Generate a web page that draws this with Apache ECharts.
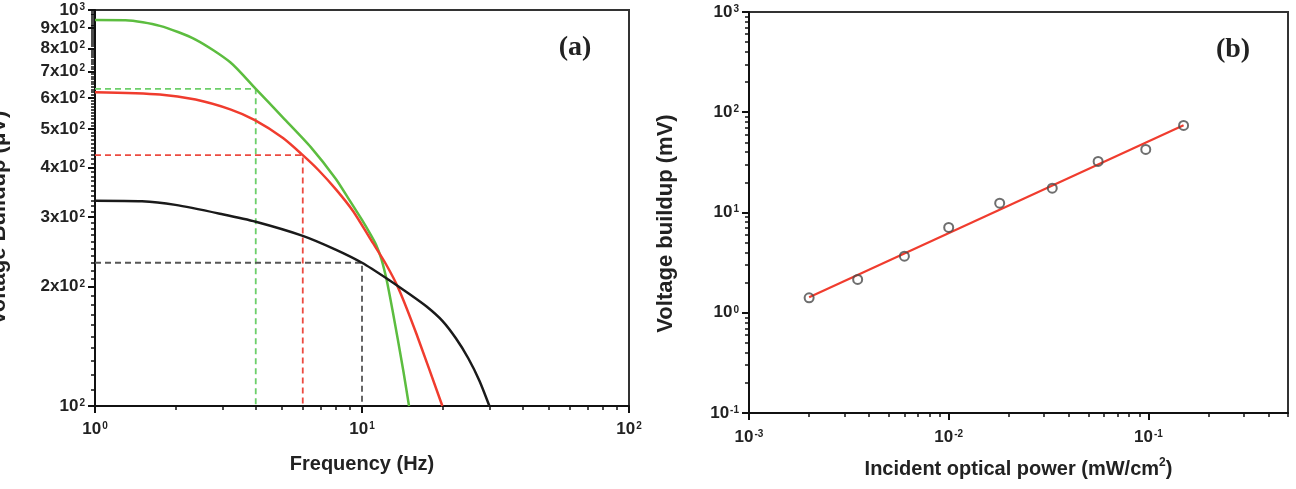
<!DOCTYPE html>
<html lang="en" style="height: 100%">
  <head>
    <meta charset="utf-8" />
  </head>
  <body style="height: 100%; margin: 0; overflow: hidden; background: #fff">
    <div id="container" style="width: 1296px; height: 489px"></div>
    <script type="text/javascript" src="https://cdn.jsdelivr.net/npm/echarts@6/dist/echarts.min.js"></script>
    <script type="text/javascript">
      // (a) frequency response
      const freqGreen = [1, 1.3, 1.75, 2.38, 3.21, 4, 5.06, 6.44, 7.97, 9, 10, 10.8, 11.3, 11.8, 12.37, 13, 13.6, 14.3, 15]
      const voltGreen = [943, 942, 912, 842, 738, 632, 535, 450, 375, 330, 295, 270, 255, 236, 208, 175, 148, 122, 100]
      const freqRed = [1, 1.75, 2.38, 3.21, 3.97, 5.06, 6, 6.85, 8, 9.28, 10.79, 12.3, 13.75, 16, 20]
      const voltRed = [620, 612, 594, 561, 527, 475, 430, 395, 352, 310, 263, 228, 197, 152, 100]
      const freqBlack = [1, 1.5, 2, 3, 4, 6, 8, 10, 12.5, 15, 17.5, 20, 22.5, 25, 27.5, 30]
      const voltBlack = [330, 329, 322, 305, 292, 269, 248, 230, 209, 192, 178, 164, 148, 132, 116, 100]
      // cut-off markers (green, red, black)
      const markFreq = [4, 6, 10]
      const markVolt = [632, 430, 230]

      // (b) power dependence
      const power = [0.002, 0.0035, 0.006, 0.01, 0.018, 0.033, 0.056, 0.097, 0.15]
      const buildup = [1.41, 2.15, 3.67, 7.1, 12.4, 17.5, 32.3, 42.6, 73.9]
      const fitPower = [0.002, 0.15]
      const fitBuildup = [1.43, 74]

      // tick positions
      const freqMajor = [1, 10, 100]
      const freqMinor = []
      for (const d of [1, 10]) for (let m = 2; m <= 9; m++) freqMinor.push(m * d)
      const voltMajor = [100, 200, 300, 400, 500, 600, 700, 800, 900, 1000]
      const voltMinor = []
      for (let v = 110; v < 1000; v += 10) if (v % 100 !== 0) voltMinor.push(v)
      const powMajor = [0.001, 0.01, 0.1]
      const powMinor = []
      for (const d of [0.001, 0.01, 0.1]) for (let m = 2; m <= 9; m++) if (m * d <= 0.5 + 1e-9) powMinor.push(+(m * d).toPrecision(3))
      const bMajor = [0.1, 1, 10, 100, 1000]
      const bMinor = []
      for (const d of [0.1, 1, 10, 100]) for (let m = 2; m <= 9; m++) bMinor.push(+(m * d).toPrecision(3))

      const zip = (xs, ys) => xs.map((x, i) => [x, ys[i]])

      const txt = '#222'
      const font = 'Liberation Sans'
      const rich = {
        b: { fontSize: 17, fontWeight: 'bold', fontFamily: font, color: txt, lineHeight: 16 },
        s: { fontSize: 10, fontWeight: 'bold', fontFamily: font, color: txt, verticalAlign: 'top', lineHeight: 7, padding: [0, 0, 0, 1] },
      }
      function sci(v) {
        const e = Math.floor(Math.log10(v) + 1e-9)
        const m = Math.round(v / Math.pow(10, e))
        return (m === 1 ? '{b|10}' : '{b|' + m + 'x10}') + '{s|' + e + '}'
      }

      const gridA = { left: 95, top: 10, width: 534, height: 396 }
      const gridB = { left: 749, top: 12, width: 539, height: 401 }

      function mainAxis(gridIndex, min, max, major, extra) {
        return Object.assign(
          {
            type: 'log',
            logBase: 10,
            gridIndex,
            min,
            max,
            axisLine: { show: true, lineStyle: { color: '#111', width: 2 } },
            axisTick: { show: true, inside: false, length: 7, customValues: major, lineStyle: { color: '#111', width: 2 } },
            axisLabel: { show: true, customValues: major, formatter: sci, rich, margin: 10, showMinLabel: true, showMaxLabel: true, hideOverlap: false },
            splitLine: { show: false },
            nameTextStyle: { fontSize: 20, fontWeight: 'bold', fontFamily: font, color: txt },
          },
          extra
        )
      }
      function minorAxis(gridIndex, min, max, minor) {
        return {
          type: 'log',
          logBase: 10,
          gridIndex,
          min,
          max,
          axisLine: { show: false },
          axisTick: { show: true, inside: false, length: 4, customValues: minor, lineStyle: { color: '#111', width: 1.5 } },
          axisLabel: { show: false },
          splitLine: { show: false },
        }
      }

      const dom = document.getElementById('container')
      const myChart = echarts.init(dom, null, { renderer: 'canvas' })

      const curve = (xs, ys, color) => ({
        type: 'line',
        xAxisIndex: 0,
        yAxisIndex: 0,
        data: zip(xs, ys),
        showSymbol: false,
        smooth: 0.25,
        lineStyle: { color, width: 2.5 },
        z: 3,
      })
      const marker = (i, color) => ({
        type: 'line',
        xAxisIndex: 0,
        yAxisIndex: 0,
        data: [[1, markVolt[i]], [markFreq[i], markVolt[i]], [markFreq[i], 100]],
        showSymbol: false,
        lineStyle: { color, width: 1.8, type: [6, 4] },
        z: 2,
      })
      const gridBase = { outerBoundsMode: 'none', containLabel: false }

      const option = {
        animation: false,
        backgroundColor: '#fff',
        grid: [
          Object.assign({ show: true, borderColor: '#333', borderWidth: 2, backgroundColor: 'transparent' }, gridBase, gridA),
          Object.assign({ show: false }, gridBase, gridA),
          Object.assign({ show: true, borderColor: '#333', borderWidth: 2, backgroundColor: 'transparent' }, gridBase, gridB),
          Object.assign({ show: false }, gridBase, gridB),
        ],
        xAxis: [
          mainAxis(0, 1, 100, freqMajor, {
            name: 'Frequency (Hz)',
            nameLocation: 'middle',
            nameGap: 48,
          }),
          minorAxis(1, 1, 100, freqMinor),
          mainAxis(2, 0.001, 0.5, powMajor, {
            name: 'Incident optical power (mW/cm{s2|2})',
            nameLocation: 'middle',
            nameGap: 44,
          }),
          minorAxis(3, 0.001, 0.5, powMinor),
        ],
        yAxis: [
          mainAxis(0, 100, 1000, voltMajor, {
            name: 'Voltage Buildup (μV)',
            nameLocation: 'middle',
            nameGap: 85,
          }),
          minorAxis(1, 100, 1000, voltMinor),
          mainAxis(2, 0.1, 1000, bMajor, {
            name: 'Voltage buildup (mV)',
            nameLocation: 'middle',
            nameGap: 72,
          }),
          minorAxis(3, 0.1, 1000, bMinor),
        ],
        graphic: [
          {
            type: 'text',
            x: 575,
            y: 48,
            style: { text: '(a)', font: 'bold 28px "Liberation Serif"', fill: '#222', textAlign: 'center', textVerticalAlign: 'middle' },
          },
          {
            type: 'text',
            x: 1233,
            y: 50,
            style: { text: '(b)', font: 'bold 28px "Liberation Serif"', fill: '#222', textAlign: 'center', textVerticalAlign: 'middle' },
          },
        ],
        series: [
          marker(0, '#6ccf6a'),
          marker(1, '#ec4a40'),
          marker(2, '#555'),
          curve(freqGreen, voltGreen, '#5cbd3f'),
          curve(freqRed, voltRed, '#f03c2e'),
          curve(freqBlack, voltBlack, '#1a1a1a'),
          {
            type: 'line',
            xAxisIndex: 2,
            yAxisIndex: 2,
            data: zip(fitPower, fitBuildup),
            showSymbol: false,
            lineStyle: { color: '#f03c2e', width: 2.2 },
          },
          {
            type: 'scatter',
            xAxisIndex: 2,
            yAxisIndex: 2,
            data: zip(power, buildup),
            symbol: 'circle',
            symbolSize: 9,
            itemStyle: { color: 'rgba(255,255,255,0)', borderColor: '#4a4a4a', borderWidth: 2 },
            z: 5,
          },
        ],
      }
      option.xAxis[0].axisLabel.margin = 15
      option.xAxis[2].axisLabel.margin = 16
      const yName = { fontSize: 22, fontWeight: 'bold', fontFamily: font, color: txt }
      option.yAxis[0].nameTextStyle = Object.assign({}, yName, { padding: [0, 20, 0, 0] })
      option.yAxis[2].nameTextStyle = Object.assign({}, yName, { padding: [0, 22, 0, 0] })
      option.xAxis[2].nameTextStyle.rich = {
        s2: { fontSize: 12, fontWeight: 'bold', fontFamily: font, color: txt, verticalAlign: 'top', lineHeight: 24 },
      }
      option.xAxis[2].nameTextStyle.lineHeight = 24

      myChart.setOption(option)
      window.addEventListener('resize', myChart.resize)
    </script>
  </body>
</html>
